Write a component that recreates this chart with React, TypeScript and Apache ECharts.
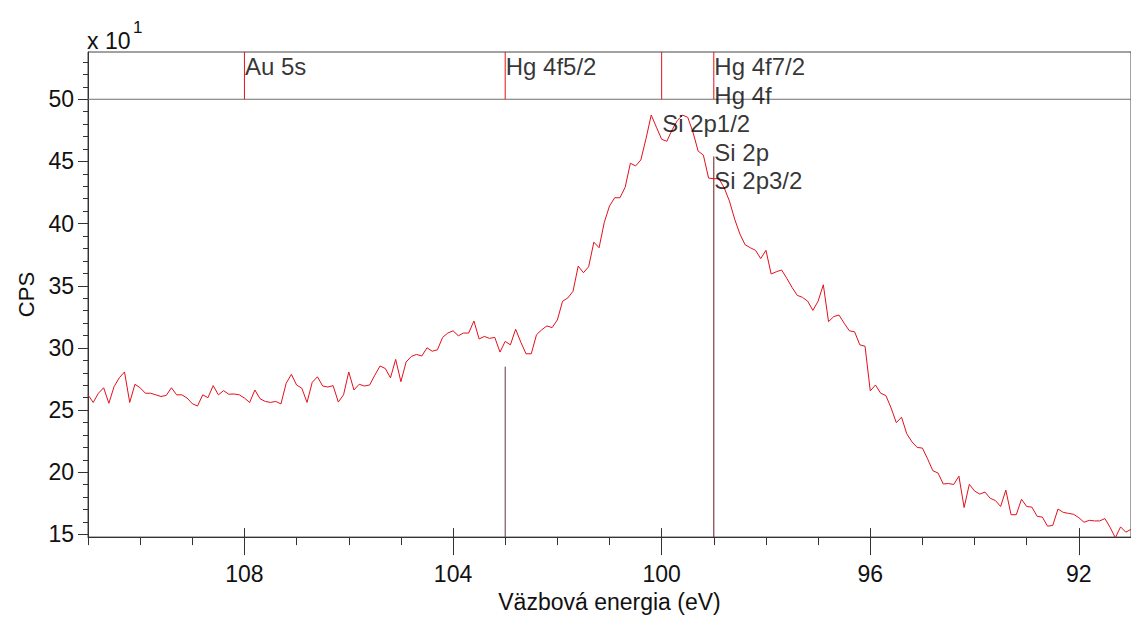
import React, { useEffect, useRef } from 'react';
import * as echarts from 'echarts';

// Binding energy grid of the scan (eV), from the left end of the plot
const START_EV = 111.0;
const STEP_EV = 0.1;

// CPS (x 10^1)
const cps111to106 = [
  26.23, 25.62, 26.36, 26.80, 25.55, 26.89, 27.60, 28.07, 25.62, 27.08,
  26.80, 26.36, 26.36, 26.23, 26.10, 26.18, 26.80, 26.23, 26.23, 25.97,
  25.52, 25.33, 26.23, 26.00, 26.97, 26.23, 26.57, 26.28, 26.30, 26.23,
  25.97, 25.62, 26.62, 25.91, 25.70, 25.62, 25.70, 25.50, 27.16, 27.88,
  27.02, 26.76, 25.62, 27.24, 27.68, 26.94, 26.86, 26.97, 25.65, 26.23,
  28.07,
];
const cps105to101 = [
  26.62, 27.08, 26.94, 27.02, 27.81, 28.55, 28.35, 27.60, 29.08, 27.29,
  28.87, 29.32, 29.48, 29.35, 30.01, 29.74, 29.85, 30.85, 31.20, 31.38,
  30.98, 31.20, 31.20, 32.17, 30.72, 30.93, 30.77, 30.85, 29.67, 30.53,
  30.25, 31.51, 30.46, 29.53, 29.53, 31.06, 31.46, 31.77, 31.64, 32.25,
  33.76, 34.02, 34.55, 36.58, 36.05, 36.53, 38.51, 38.06, 40.10, 41.42,
];
const cps100to96 = [
  42.08, 42.08, 42.92, 44.85, 44.64, 45.11, 46.83, 48.73, 47.75, 46.78,
  46.62, 47.54, 48.28, 48.73, 48.55, 47.36, 45.83, 45.51, 43.66, 43.61,
  43.61, 42.87, 41.81, 40.36, 39.17, 38.30, 38.06, 37.85, 37.19, 37.85,
  35.95, 36.13, 36.27, 35.60, 34.87, 34.23, 34.07, 33.76, 33.02, 33.76,
  35.08, 32.12, 32.52, 32.65, 31.99, 31.38, 31.30, 30.25, 30.14, 26.55,
];
const cps95to91 = [
  27.02, 26.36, 26.17, 25.17, 23.99, 24.43, 23.10, 22.45, 22.00, 21.95,
  21.08, 20.13, 19.94, 19.06, 19.10, 19.02, 19.69, 17.17, 19.04, 18.50,
  18.25, 18.41, 17.91, 17.73, 17.25, 18.57, 16.59, 16.59, 17.83, 17.25,
  17.20, 16.46, 16.40, 15.67, 15.73, 17.05, 16.78, 16.70, 16.62, 16.35,
  15.98, 16.14, 16.09, 16.09, 16.28, 15.57, 14.74, 15.61, 15.19, 15.41,
];

// Axis tick labels
const xTickLabels = [108, 104, 100, 96, 92];
const yTickLabels = [15, 20, 25, 30, 35, 40, 45, 50];

// Peak annotations
const peakNames = ['Au 5s', 'Hg 4f5/2', 'Hg 4f7/2', 'Hg 4f', 'Si 2p1/2', 'Si 2p', 'Si 2p3/2'];
const peakEnergies = [108, 103, 99, 99, 100, 99, 99];
const peakRows = [0, 0, 0, 1, 2, 3, 4];
const bandLineEnergies = [108, 103, 100, 99];
const dropLineEnergies = [103, 99];
const dropLineTops = [28.5, 45.4];
const dropLineColors = ['#64343f', '#6a1420'];

const X_MIN = 91;
const X_MAX = 111;
const Y_MIN = 14.79;
const Y_MAX = 53.8;
const BAND_BASE = 50;
const FONT = 'Liberation Sans, Arial, sans-serif';

export default function App() {
  const ref = useRef<HTMLDivElement>(null);

  useEffect(() => {
    if (!ref.current) return;
    const chart = echarts.init(ref.current, undefined, { renderer: 'svg' });

    const allCps = [...cps111to106, ...cps105to101, ...cps100to96, ...cps95to91];
    const curveData = allCps.map((v, i) => [+(START_EV - i * STEP_EV).toFixed(1), v]);

    const yIntTicks: number[] = [];
    for (let v = 15; v <= 53; v++) yIntTicks.push(v);

    const rowTop = (r: number) => 53.56 - r * 2.3;

    const axisColor = '#333';

    const segment = (pts: number[][], color: string) => ({
      type: 'line',
      xAxisIndex: 0,
      yAxisIndex: 0,
      data: pts,
      symbol: 'none',
      showSymbol: false,
      silent: true,
      lineStyle: { color, width: 1, type: 'solid' },
      z: 2,
    });

    const option: any = {
      animation: false,
      backgroundColor: '#ffffff',
      grid: {
        left: 88,
        right: -1,
        top: 52,
        bottom: 73,
        show: true,
        borderColor: '#444',
        borderWidth: 1,
        backgroundColor: 'transparent',
      },
      xAxis: [
        {
          type: 'value', min: X_MIN, max: X_MAX, inverse: true, interval: 1, position: 'bottom',
          axisLine: { show: true, lineStyle: { color: axisColor, width: 1 } },
          axisTick: { show: true, length: 8, lineStyle: { color: axisColor, width: 1 } },
          axisLabel: { show: true, customValues: xTickLabels, fontSize: 23, color: '#111', fontFamily: FONT, margin: 25 },
          splitLine: { show: false },
          name: 'Väzbová energia (eV)', nameLocation: 'middle', nameGap: 52,
          nameTextStyle: { fontSize: 23, color: '#111', fontFamily: FONT },
        },
        {
          type: 'value', min: X_MIN, max: X_MAX, inverse: true, position: 'bottom',
          axisLine: { show: false },
          axisTick: { show: true, customValues: xTickLabels, length: 18, lineStyle: { color: axisColor, width: 1 } },
          axisLabel: { show: false },
          splitLine: { show: false },
        },
        {
          type: 'value', min: X_MIN, max: X_MAX, inverse: true, position: 'bottom',
          axisLine: { show: false },
          axisTick: { show: true, inside: true, customValues: xTickLabels, length: 9, lineStyle: { color: axisColor, width: 1 } },
          axisLabel: { show: false },
          splitLine: { show: false },
        },
      ],
      yAxis: [
        {
          type: 'value', min: Y_MIN, max: Y_MAX, position: 'left',
          axisLine: { show: true, lineStyle: { color: axisColor, width: 1 } },
          axisTick: { show: true, customValues: yIntTicks, length: 5, lineStyle: { color: axisColor, width: 1 } },
          axisLabel: { show: true, customValues: yTickLabels, fontSize: 23, color: '#111', fontFamily: FONT, margin: 14 },
          splitLine: { show: false },
          name: 'CPS', nameLocation: 'middle', nameGap: 46, nameRotate: 90,
          nameTextStyle: { fontSize: 22, color: '#111', fontFamily: FONT },
        },
        {
          type: 'value', min: Y_MIN, max: Y_MAX, position: 'left',
          axisLine: { show: false },
          axisTick: { show: true, customValues: yTickLabels, length: 10, lineStyle: { color: axisColor, width: 1 } },
          axisLabel: { show: false },
          splitLine: { show: false },
        },
      ],
      series: [
        segment([[X_MIN, BAND_BASE], [X_MAX, BAND_BASE]], '#6f6f6f'),
        ...bandLineEnergies.map((e) => segment([[e, BAND_BASE], [e, Y_MAX]], '#e8101a')),
        ...dropLineEnergies.map((e, i) => segment([[e, Y_MIN], [e, dropLineTops[i]]], dropLineColors[i])),
        {
          type: 'line',
          xAxisIndex: 0,
          yAxisIndex: 0,
          data: curveData,
          showSymbol: false,
          symbol: 'none',
          lineStyle: { color: '#e3101c', width: 1 },
          z: 3,
        },
        {
          type: 'scatter',
          xAxisIndex: 0,
          yAxisIndex: 0,
          silent: true,
          symbolSize: 1,
          itemStyle: { color: 'rgba(0,0,0,0)' },
          z: 5,
          data: peakNames.map((n, i) => ({ name: n, value: [peakEnergies[i], rowTop(peakRows[i])] })),
          label: {
            show: true,
            position: [1, 0],
            align: 'left',
            verticalAlign: 'top',
            formatter: '{b}',
            fontSize: 24,
            color: '#000',
            fontFamily: FONT,
          },
        },
      ],
      graphic: [
        { type: 'text', left: 87, top: 29, style: { text: 'x 10', fontSize: 23, fill: '#111', fontFamily: FONT } },
        { type: 'text', left: 133, top: 19, style: { text: '1', fontSize: 17, fill: '#111', fontFamily: FONT } },
      ],
    };

    chart.setOption(option);
    return () => chart.dispose();
  }, []);

  return (
    <div
      ref={ref}
      style={{ position: 'fixed', left: 0, top: 0, width: 1131, height: 618, background: '#fff' }}
    />
  );
}
